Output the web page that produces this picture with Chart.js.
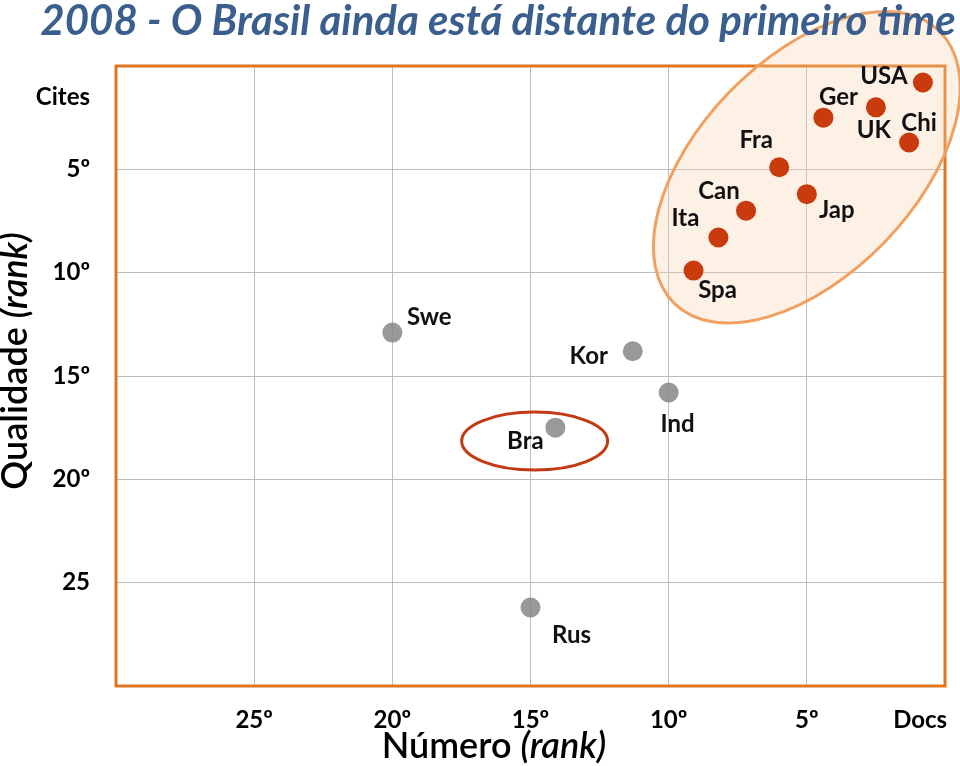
<!DOCTYPE html>
<html><head><meta charset="utf-8">
<script src="https://cdn.jsdelivr.net/npm/chart.js@4"></script>
<style>html,body{margin:0;padding:0;background:#fff}#wrap{width:960px;height:766px}</style>
</head><body><div id="wrap"><canvas id="c" width="960" height="766"></canvas></div>
<script>
const countries = ['USA','Ger','UK','Chi','Fra','Jap','Can','Ita','Spa','Swe','Kor','Ind','Bra','Rus'];
const numeroRank = [0.8,4.4,2.5,1.3,6.0,5.0,7.2,8.2,9.1,20.0,11.3,10.0,14.1,15.0];
const qualidadeRank = [0.8,2.5,2.0,3.7,4.9,6.2,7.0,8.3,9.9,12.9,13.8,15.8,17.5,26.2];
const topGroup = [true,true,true,true,true,true,true,true,true,false,false,false,false,false];
const xTickValues = [25,20,15,10,5,0.9];
const xTickLabels = ['25º','20º','15º','10º','5º','Docs'];
const yTickValues = [1.5,5,10,15,20,25];
const yTickLabels = ['Cites','5º','10º','15º','20º','25'];
const titleText = '2008 - O Brasil ainda está distante do primeiro time';

const labelOffsets = {USA:[-39,-6],Ger:[15,-20],UK:[-2,23],Chi:[10,-19],Fra:[-23,-27],Jap:[30,16],Can:[-27,-19],Ita:[-33,-19],Spa:[24,20],Swe:[37,-15],Kor:[-44,5],Ind:[9,32],Bra:[-30,14],Rus:[41,28]};

const F = 'Lato, "Open Sans", sans-serif';
const red = '#C93A0C', gray = 'rgba(135,135,135,0.85)';

const pts = numeroRank.map((x,i)=>({x:x,y:qualidadeRank[i]}));

const decor = {
  id:'decor',
  beforeDatasetsDraw(chart){
    const {ctx, chartArea:a, scales:{x,y}} = chart;
    ctx.save();
    ctx.strokeStyle = '#E0771F'; ctx.lineWidth = 3;
    ctx.strokeRect(a.left, a.top, a.right-a.left, a.bottom-a.top);
    const cx = x.getPixelForValue(5.0), cy = y.getPixelForValue(4.9);
    ctx.beginPath();
    ctx.ellipse(cx, cy, 190, 108, -0.8, 0, Math.PI*2);
    ctx.fillStyle = 'rgba(250,205,170,0.3)'; ctx.fill();
    ctx.strokeStyle = '#F0A060'; ctx.lineWidth = 3; ctx.stroke();
    const bx = x.getPixelForValue(14.85), by = y.getPixelForValue(18.15);
    ctx.beginPath();
    ctx.ellipse(bx, by, 73, 29, 0, 0, Math.PI*2);
    ctx.strokeStyle = '#C23A12'; ctx.lineWidth = 3; ctx.stroke();
    ctx.restore();
  },
  afterDatasetsDraw(chart){
    const {ctx} = chart;
    const meta = chart.getDatasetMeta(0);
    ctx.save();
    ctx.font = 'bold 24px '+F; ctx.fillStyle = '#111';
    ctx.textAlign='center'; ctx.textBaseline='middle';
    meta.data.forEach((el,i)=>{
      const o = labelOffsets[countries[i]];
      ctx.fillText(countries[i], el.x+o[0], el.y+o[1]);
    });
    ctx.restore();
  },
  afterDraw(chart){
    const {ctx} = chart;
    ctx.save();
    ctx.font = 'italic bold 42px '+F; ctx.fillStyle = '#3A5F8E';
    ctx.textAlign='center'; ctx.textBaseline='middle';
    ctx.fillText(titleText, 498, 21);
    drawMixed(ctx, 'Número ', '(rank)', 494, 746, 36);
    ctx.translate(15, 361); ctx.rotate(-Math.PI/2);
    drawMixed(ctx, 'Qualidade ', '(rank)', 0, 0, 36);
    ctx.restore();
  }
};
function drawMixed(ctx, a, b, cx, cy, size){
  ctx.textBaseline='middle'; ctx.fillStyle='#000'; ctx.textAlign='left';
  ctx.font = '600 '+size+'px '+F; const wa = ctx.measureText(a).width;
  ctx.font = 'italic 600 '+size+'px '+F; const wb = ctx.measureText(b).width;
  let sx = cx - (wa+wb)/2;
  ctx.font = '600 '+size+'px '+F; ctx.fillText(a, sx, cy);
  ctx.font = 'italic 600 '+size+'px '+F; ctx.fillText(b, sx+wa, cy);
}

const gridColor = ()=> (c)=> (c.tick && (c.tick.value===0.9 || c.tick.value===1.5)) ? 'rgba(0,0,0,0)' : '#B8BDC6';

new Chart(document.getElementById('c'), {
  type:'scatter',
  data:{datasets:[{
    data: pts,
    pointRadius: 10, pointHoverRadius: 10, borderWidth: 0,
    backgroundColor: topGroup.map(t=>t?red:gray),
    pointBorderColor: 'rgba(0,0,0,0)'
  }]},
  options:{
    responsive:false, animation:false,
    layout:{padding:{top:66,left:0,right:15,bottom:0}},
    plugins:{legend:{display:false}, tooltip:{enabled:false}},
    scales:{
      x:{type:'linear', reverse:true, min:0, max:30,
        afterBuildTicks(s){ s.ticks = xTickValues.map(v=>({value:v})); },
        afterFit(s){ s.height = 80; s.paddingLeft = 0; s.paddingRight = 0; },
        ticks:{autoSkip:false, maxRotation:0, padding:20, color:'#000', font:{family:F, weight:'bold', size:24},
          callback:(v)=>{ const i = xTickValues.indexOf(v); return i>=0?xTickLabels[i]:''; }},
        grid:{color:gridColor(), drawTicks:false, lineWidth:1},
        border:{display:false}
      },
      y:{type:'linear', reverse:true, min:0, max:30,
        afterBuildTicks(s){ s.ticks = yTickValues.map(v=>({value:v})); },
        afterFit(s){ s.width = 116; s.paddingTop = 0; s.paddingBottom = 0; },
        ticks:{autoSkip:false, padding:26, color:'#000', font:{family:F, weight:'bold', size:24},
          callback:(v)=>{ const i = yTickValues.indexOf(v); return i>=0?yTickLabels[i]:''; }},
        grid:{color:gridColor(), drawTicks:false, lineWidth:1},
        border:{display:false}
      }
    }
  },
  plugins:[decor]
});
</script></body></html>
